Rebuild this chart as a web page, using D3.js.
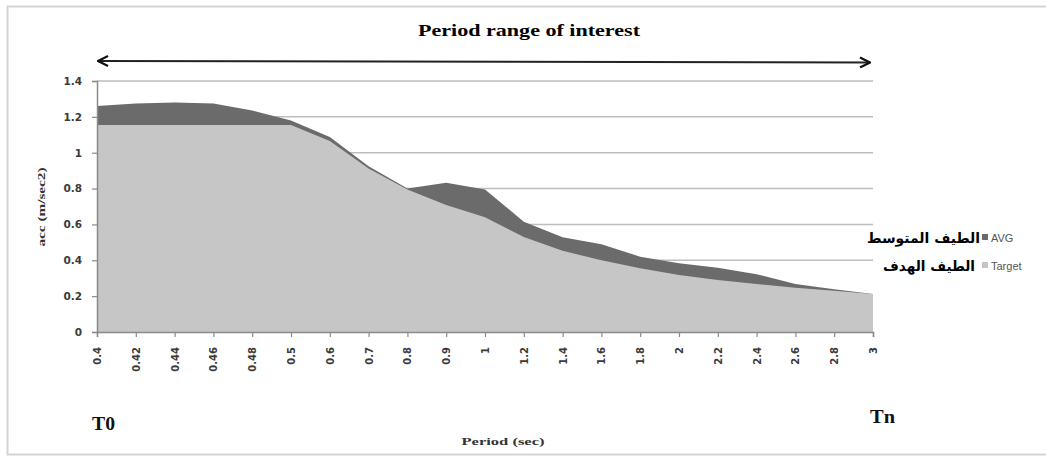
<!DOCTYPE html>
<html><head><meta charset="utf-8">
<script src="https://cdn.jsdelivr.net/npm/d3@7"></script>
<style>body{margin:0;background:#fff;overflow:hidden}</style>
</head><body><svg id="c" width="1046" height="456"></svg>
<script>
const periods = ["0.4","0.42","0.44","0.46","0.48","0.5","0.6","0.7","0.8","0.9","1","1.2","1.4","1.6","1.8","2","2.2","2.4","2.6","2.8","3"];
const avgValues = [1.26,1.275,1.28,1.275,1.235,1.18,1.087,0.925,0.80,0.833,0.795,0.615,0.528,0.49,0.42,0.383,0.359,0.322,0.268,0.238,0.212];
const targetValues = [1.155,1.155,1.155,1.155,1.155,1.155,1.065,0.912,0.795,0.708,0.64,0.53,0.453,0.40,0.355,0.318,0.29,0.268,0.247,0.23,0.212];
const yTicks = [0,0.2,0.4,0.6,0.8,1,1.2,1.4];
const seriesNames = ["AVG","Target"];
const arabicNames = ["الطيف المتوسط","الطيف الهدف"];
const seriesColors = ["#6b6b6b","#c6c6c6"];

const svg = d3.select("#c");
const L = 97, R = 873, T = 81, B = 332;

svg.append("rect").attr("x",7.5).attr("y",6.5).attr("width",1046).attr("height",448)
  .attr("fill","#fff").attr("stroke","#d4d4d4").attr("stroke-width",2);

const x = d3.scalePoint().domain(periods).range([L,R]);
const y = d3.scaleLinear().domain([0,1.4]).range([B,T]);

// gridlines
svg.append("g").selectAll("line").data(yTicks.filter(d=>d>0)).join("line")
  .attr("x1",L).attr("x2",R).attr("y1",d=>y(d)).attr("y2",d=>y(d))
  .attr("stroke","#bdbdbd").attr("stroke-width",1.5);

const area = vals => d3.area().x((d,i)=>x(periods[i])).y0(y(0)).y1(d=>y(d))(vals);
svg.append("path").attr("d",area(avgValues)).attr("fill",seriesColors[0]);
svg.append("path").attr("d",area(targetValues)).attr("fill",seriesColors[1]);

// axes
const yAxis = svg.append("g").attr("transform",`translate(${L},0)`)
  .call(d3.axisLeft(y).tickValues(yTicks).tickSize(5).tickPadding(10).tickFormat(d3.format("~g")));
const xAxis = svg.append("g").attr("transform",`translate(0,${B})`)
  .call(d3.axisBottom(x).tickSize(5).tickPadding(3));
[yAxis,xAxis].forEach(g=>{
  g.select(".domain").attr("stroke","#8a8a8a").attr("stroke-width",1.5);
  g.selectAll(".tick line").attr("stroke","#8a8a8a").attr("stroke-width",1.2);
  g.selectAll("text").attr("fill","#3a3a3a").attr("font-family","DejaVu Sans").attr("font-weight","bold").attr("font-size",10);
});
yAxis.selectAll("text").attr("font-size",10.5);
xAxis.selectAll(".tick text").attr("text-anchor","end")
  .attr("transform","rotate(-90)").attr("x",-15).attr("y",0).attr("dy","0.35em");

// title
svg.append("text").attr("x",529).attr("y",36).attr("text-anchor","middle")
  .attr("font-family","Liberation Serif").attr("font-weight","bold").attr("font-size",17)
  .attr("textLength",222).attr("lengthAdjust","spacingAndGlyphs").text("Period range of interest");

// double arrow
svg.append("defs").html(`<marker id="ah" viewBox="0 0 12 12" refX="11" refY="6" markerWidth="12" markerHeight="12" markerUnits="userSpaceOnUse" orient="auto-start-reverse"><path d="M1,1 L11,6 L1,11" fill="none" stroke="#111" stroke-width="2.2"/></marker>`);
svg.append("line").attr("x1",x(periods[0])+1).attr("x2",x(periods[periods.length-1])-3)
  .attr("y1",61).attr("y2",62.5).attr("stroke","#222").attr("stroke-width",2)
  .attr("marker-start","url(#ah)").attr("marker-end","url(#ah)");

// y label
svg.append("text").attr("transform","translate(45,207) rotate(-90)").attr("text-anchor","middle")
  .attr("font-family","Liberation Serif").attr("font-weight","bold").attr("font-size",11)
  .attr("fill","#333").attr("textLength",79).attr("lengthAdjust","spacingAndGlyphs").text("acc (m/sec2)");

// x label
svg.append("text").attr("x",503).attr("y",445).attr("text-anchor","middle")
  .attr("font-family","Liberation Serif").attr("font-weight","bold").attr("font-size",11)
  .attr("fill","#333").attr("textLength",83).attr("lengthAdjust","spacingAndGlyphs").text("Period (sec)");

// T0 / Tn
svg.append("text").attr("x",92).attr("y",430).attr("font-family","Liberation Serif").attr("font-weight","bold")
  .attr("font-size",19).attr("fill","#111").attr("textLength",23).attr("lengthAdjust","spacingAndGlyphs").text("T0");
svg.append("text").attr("x",870).attr("y",423).attr("font-family","Liberation Serif").attr("font-weight","bold")
  .attr("font-size",19).attr("fill","#111").attr("textLength",25).attr("lengthAdjust","spacingAndGlyphs").text("Tn");

// legend
const legY = [238,266];
const ar = [[867,980],[883,975]];
seriesNames.forEach((n,i)=>{
  svg.append("rect").attr("x",982).attr("y",legY[i]-4).attr("width",6).attr("height",6).attr("fill",seriesColors[i]);
  svg.append("text").attr("x",991).attr("y",legY[i]+4).attr("font-family","Liberation Sans").attr("font-size",11)
    .attr("fill","#555").text(n);
  svg.append("text").attr("x",ar[i][1]).attr("y",legY[i]+5).attr("text-anchor","end")
    .attr("font-family","DejaVu Sans").attr("font-weight","bold").attr("font-size",14).attr("fill","#000")
    .attr("textLength",ar[i][1]-ar[i][0]).attr("lengthAdjust","spacingAndGlyphs").text(arabicNames[i]);
});
</script></body></html>
